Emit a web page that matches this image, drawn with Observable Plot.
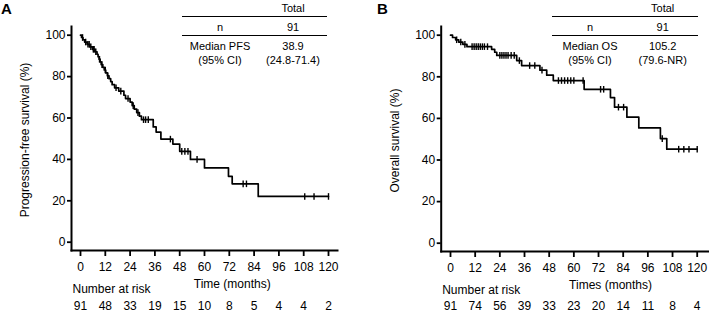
<!DOCTYPE html>
<html>
<head>
<meta charset="utf-8">
<script src="https://cdn.jsdelivr.net/npm/d3@7"></script>
<script src="https://cdn.jsdelivr.net/npm/@observablehq/plot@0.6"></script>
<style>
  body { margin: 0; background: #fff; font-family: "Liberation Sans", Arial, sans-serif; color: #000; }
  #wrap { display: flex; width: 709px; height: 312px; overflow: hidden; }
  .panel { position: relative; height: 312px; }
  .panel svg { display: block; }
  .letter { position: absolute; font-weight: bold; font-size: 15px; line-height: 15px; }
  .cell { position: absolute; transform: translate(-50%, -50%); font-size: 11px; line-height: 13px; white-space: nowrap; text-align: center; }
  .rule { position: absolute; height: 0; border-top: 1.5px solid #000; }
</style>
</head>
<body>
<div id="wrap">
  <div class="panel" id="panelA"></div>
  <div class="panel" id="panelB"></div>
</div>
<script>
// Follow-up ticks (months) shared by both panels
const months = [0, 12, 24, 36, 48, 60, 72, 84, 96, 108, 120];
const yTicks = [0, 20, 40, 60, 80, 100];

// Progression-free survival: Kaplan–Meier steps (time in months, survival in %)
const pfsTime = [0, 0.5, 1.2, 2.0, 3.2, 4.5, 5.8, 7.0, 8.0, 8.5, 9.0, 9.5, 10.0, 10.8, 11.5, 12.2, 13.0, 13.8, 14.6, 15.3, 16.5, 18.5, 21.0, 21.8, 24.0, 25.0, 26.0, 27.2, 28.5, 29.5, 35.2, 36.6, 38.9, 44.7, 48.0, 53.2, 60.0, 71.6, 73.4, 86.0];
const pfsSurv = [100, 98.9, 97.8, 96.7, 95.6, 94.4, 93.2, 92.0, 90.8, 89.6, 88.4, 87.1, 85.8, 84.5, 83.2, 81.8, 80.4, 79.0, 77.6, 76.1, 74.6, 73.0, 71.0, 69.4, 67.7, 66.0, 64.3, 62.6, 60.9, 59.2, 55.7, 53.2, 49.8, 47.4, 43.9, 40.0, 35.9, 31.8, 28.2, 22.1];
const pfsCensored = [1.0, 2.5, 3.6, 4.2, 5.0, 6.2, 6.6, 7.4, 9.2, 10.4, 12.0, 13.2, 17.2, 19.5, 23.0, 25.5, 27.8, 30.5, 31.5, 32.8, 43.5, 49.0, 50.5, 52.0, 56.4, 78.7, 80.3, 108.5, 113.0, 120.0];
const pfsAtRisk = [91, 48, 33, 19, 15, 10, 8, 5, 4, 4, 2];

// Overall survival: Kaplan–Meier steps
const osTime = [0, 1.0, 2.5, 4.0, 6.0, 8.0, 20.0, 21.5, 22.5, 32.2, 34.6, 43.5, 46.8, 50.0, 65.0, 77.8, 79.8, 85.8, 91.6, 102.1, 105.2];
const osSurv = [100, 98.9, 97.8, 96.7, 95.6, 94.5, 93.2, 91.8, 90.3, 87.8, 85.4, 83.2, 80.8, 78.2, 74.0, 70.0, 65.4, 60.6, 55.4, 50.3, 45.2];
const osCensored = [3.0, 5.0, 7.0, 10.5, 11.5, 12.5, 13.5, 14.5, 15.5, 16.5, 18.0, 24.0, 25.0, 26.0, 27.0, 28.0, 29.5, 31.0, 33.5, 38.5, 41.0, 44.5, 52.5, 54.0, 55.5, 57.0, 58.5, 60.0, 64.5, 73.0, 74.5, 81.7, 84.2, 103.0, 111.0, 113.5, 116.0, 120.0];
const osAtRisk = [91, 74, 56, 39, 33, 23, 20, 14, 11, 8, 4];

// Summary tables
const tableHeader = "Total";
const pfsSummary = { n: "91", label: ["Median PFS", "(95% CI)"], value: ["38.9", "(24.8-71.4)"] };
const osSummary = { n: "91", label: ["Median OS", "(95% CI)"], value: ["105.2", "(79.6-NR)"] };

const font = '"Liberation Sans", Arial, sans-serif';

// Vertical bar symbol for censoring marks
const vbar = {
  draw(context, size) {
    const h = Math.sqrt(size / Math.PI);
    context.moveTo(0, -h);
    context.lineTo(0, h);
  }
};

function survivalAt(times, surv, t) {
  let s = surv[0];
  for (let i = 0; i < times.length; i++) if (times[i] <= t) s = surv[i];
  return s;
}

function kmPanel(cfg) {
  const steps = cfg.times.map((t, i) => ({t, s: cfg.surv[i]}));
  steps.push({t: 120, s: cfg.surv[cfg.surv.length - 1]});
  const censor = cfg.censored.map(t => ({t, s: survivalAt(cfg.times, cfg.surv, t)}));
  return Plot.plot({
    width: cfg.width,
    height: 312,
    marginLeft: cfg.marginLeft,
    marginRight: cfg.marginRight,
    marginTop: 26,
    marginBottom: cfg.marginBottom,
    style: {fontFamily: font, fontSize: "12px", color: "#000", background: "#fff"},
    x: {domain: [0, 120], insetLeft: cfg.insetLeft, insetRight: cfg.insetRight},
    y: {domain: [0, 100], insetTop: 8.7, insetBottom: 8.3},
    marks: [
      Plot.frame({anchor: "left", stroke: "#000", strokeWidth: 2}),
      Plot.frame({anchor: "bottom", stroke: "#000", strokeWidth: 2}),
      Plot.axisY({ticks: yTicks, tickSize: 4, tickPadding: 2, strokeWidth: 1.8, label: null, fontSize: 12}),
      Plot.axisX({ticks: months, tickSize: 6, tickPadding: 6, strokeWidth: 1.8, label: null, fontSize: 12}),
      Plot.line(steps, {x: "t", y: "s", curve: "step-after", stroke: "#000", strokeWidth: 1.7}),
      Plot.dot(censor, {x: "t", y: "s", symbol: vbar, r: 3.3, stroke: "#000", strokeWidth: 1.4}),
      Plot.text([cfg.yLabel], {frameAnchor: "left", textAnchor: "middle", lineAnchor: "middle", rotate: -90, dx: -46, dy: 1.5, fontSize: 12}),
      Plot.text([cfg.xLabel], {frameAnchor: "bottom", textAnchor: "middle", lineAnchor: "middle", dx: cfg.xLabelDx, dy: 33.5, fontSize: 12}),
      Plot.text(["Number at risk"], {frameAnchor: "bottom-left", textAnchor: "start", lineAnchor: "middle", dx: 1, dy: 39, fontSize: 12}),
      Plot.text(cfg.atRisk, {x: (d, i) => months[i], text: d => String(d), frameAnchor: "bottom", lineAnchor: "middle", dy: cfg.riskDy, fontSize: 12})
    ]
  });
}

function addOverlay(host, letter, letterX, summary, colLabel, colValue, ruleX1, ruleX2) {
  const el = (cls, css, text) => {
    const d = document.createElement("div");
    d.className = cls;
    Object.assign(d.style, css);
    if (text != null) d.textContent = text;
    host.appendChild(d);
  };
  el("letter", {left: letterX + "px", top: "1px"}, letter);
  el("cell", {left: colValue + "px", top: "7.5px"}, tableHeader);
  el("rule", {left: ruleX1 + "px", top: "16px", width: (ruleX2 - ruleX1) + "px"});
  el("cell", {left: colLabel + "px", top: "26.7px"}, "n");
  el("cell", {left: colValue + "px", top: "26.7px"}, summary.n);
  el("rule", {left: ruleX1 + "px", top: "35.3px", width: (ruleX2 - ruleX1) + "px"});
  el("cell", {left: colLabel + "px", top: "46px"}, summary.label[0]);
  el("cell", {left: colLabel + "px", top: "59.5px"}, summary.label[1]);
  el("cell", {left: colValue + "px", top: "46px"}, summary.value[0]);
  el("cell", {left: colValue + "px", top: "59.5px"}, summary.value[1]);
}

const hostA = document.getElementById("panelA");
hostA.appendChild(kmPanel({
  width: 354, marginLeft: 71, marginRight: 17, marginBottom: 62, insetLeft: 9, insetRight: 9,
  times: pfsTime, surv: pfsSurv, censored: pfsCensored, atRisk: pfsAtRisk,
  yLabel: "Progression-free survival (%)", xLabel: "Time (months)", xLabelDx: 27.7, riskDy: 55.7
}));
addOverlay(hostA, "A", 1, pfsSummary, 220, 293, 181.7, 326.7);

const hostB = document.getElementById("panelB");
hostB.appendChild(kmPanel({
  width: 355, marginLeft: 86.7, marginRight: 1, marginBottom: 61, insetLeft: 9.3, insetRight: 11.3,
  times: osTime, surv: osSurv, censored: osCensored, atRisk: osAtRisk,
  yLabel: "Overall survival (%)", xLabel: "Times (months)", xLabelDx: 35.7, riskDy: 54.7
}));
addOverlay(hostB, "B", 23, osSummary, 236, 308.7, 197.7, 344.3);
</script>
</body>
</html>
